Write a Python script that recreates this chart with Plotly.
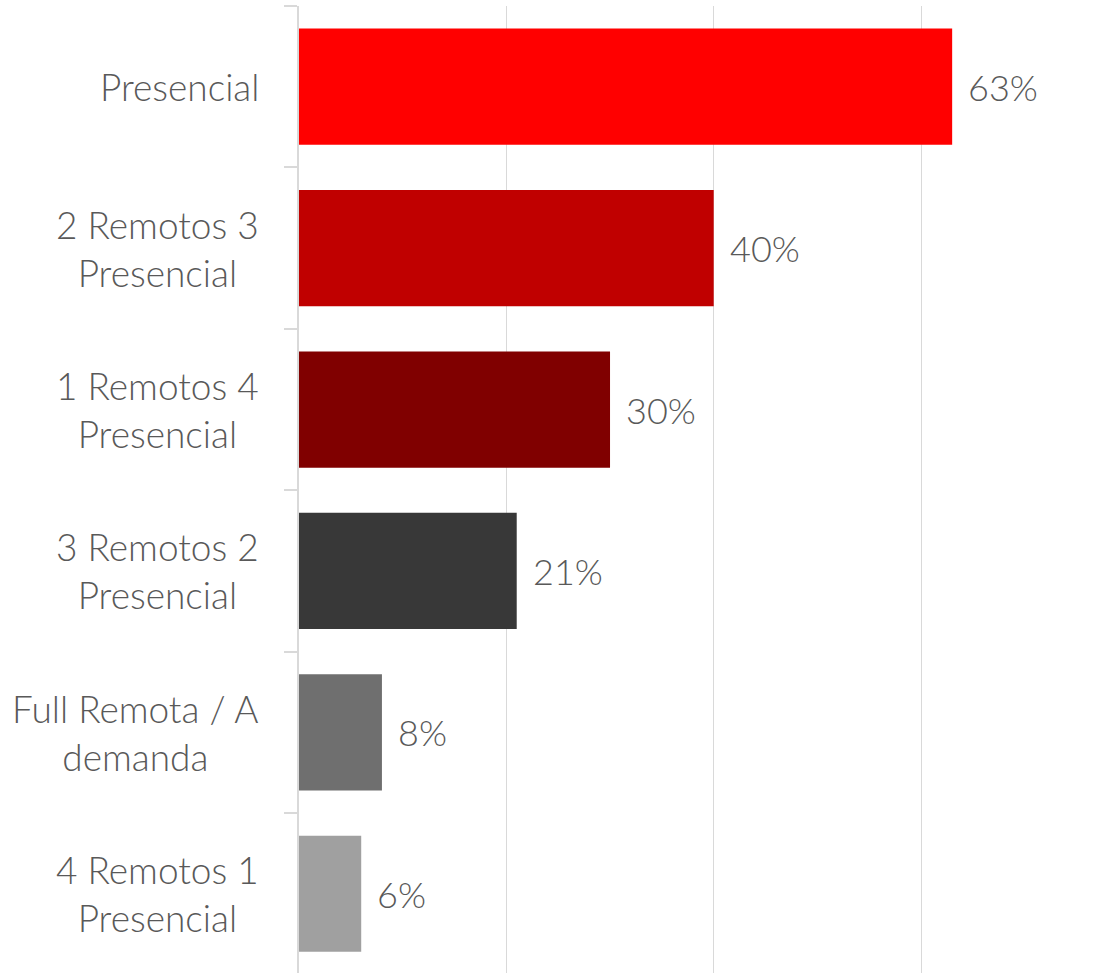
import plotly.graph_objects as go

# Work-modality preference survey
categories = [
    "Presencial",
    "2 Remotos 3<br>Presencial",
    "1 Remotos 4<br>Presencial",
    "3 Remotos 2<br>Presencial",
    "Full Remota / A<br>demanda",
    "4 Remotos 1<br>Presencial",
]
shares = [0.63, 0.40, 0.30, 0.21, 0.08, 0.06]
value_labels = ["63%", "40%", "30%", "21%", "8%", "6%"]
bar_colors = ["#FF0000", "#C00000", "#800000", "#383838", "#6F6F6F", "#A0A0A0"]

FONT = "Lato"
TEXT_COLOR = "#595959"
AXIS_GRAY = "#D9D9D9"

positions = list(range(len(categories)))

fig = go.Figure(
    go.Bar(
        x=shares,
        y=positions,
        orientation="h",
        width=0.72,
        marker=dict(color=bar_colors, line=dict(width=0)),
        hoverinfo="skip",
    )
)

# Category labels (centered multi-line text, right-aligned block)
for pos, label in zip(positions, categories):
    fig.add_annotation(
        x=0, xref="paper", y=pos, yref="y",
        text=label, showarrow=False,
        xanchor="right", yanchor="middle", align="center",
        xshift=-38,
        font=dict(family=FONT, size=37, color=TEXT_COLOR, weight=300),
    )

# Value labels just past each bar end
for pos, val, txt in zip(positions, shares, value_labels):
    fig.add_annotation(
        x=val, xref="x", y=pos, yref="y",
        text=txt, showarrow=False,
        xanchor="left", yanchor="middle",
        xshift=14,
        font=dict(family=FONT, size=36, color=TEXT_COLOR, weight=300),
    )

fig.update_layout(
    width=1117,
    height=973,
    margin=dict(l=299, r=0, t=6, b=0),
    paper_bgcolor="white",
    plot_bgcolor="white",
    showlegend=False,
    bargap=0.28,
    xaxis=dict(
        range=[0, 0.789],
        dtick=0.2,
        showgrid=True,
        gridcolor=AXIS_GRAY,
        gridwidth=1,
        zeroline=False,
        showticklabels=False,
        showline=False,
        fixedrange=True,
    ),
    yaxis=dict(
        range=[5.491, -0.5],
        tickmode="array",
        tickvals=[p - 0.5 for p in positions] + [5.5],
        showticklabels=False,
        ticks="outside",
        ticklen=13,
        tickwidth=2,
        tickcolor=AXIS_GRAY,
        showgrid=False,
        zeroline=False,
        showline=True,
        linecolor=AXIS_GRAY,
        linewidth=2,
        fixedrange=True,
    ),
)

fig.write_html("out.html")
